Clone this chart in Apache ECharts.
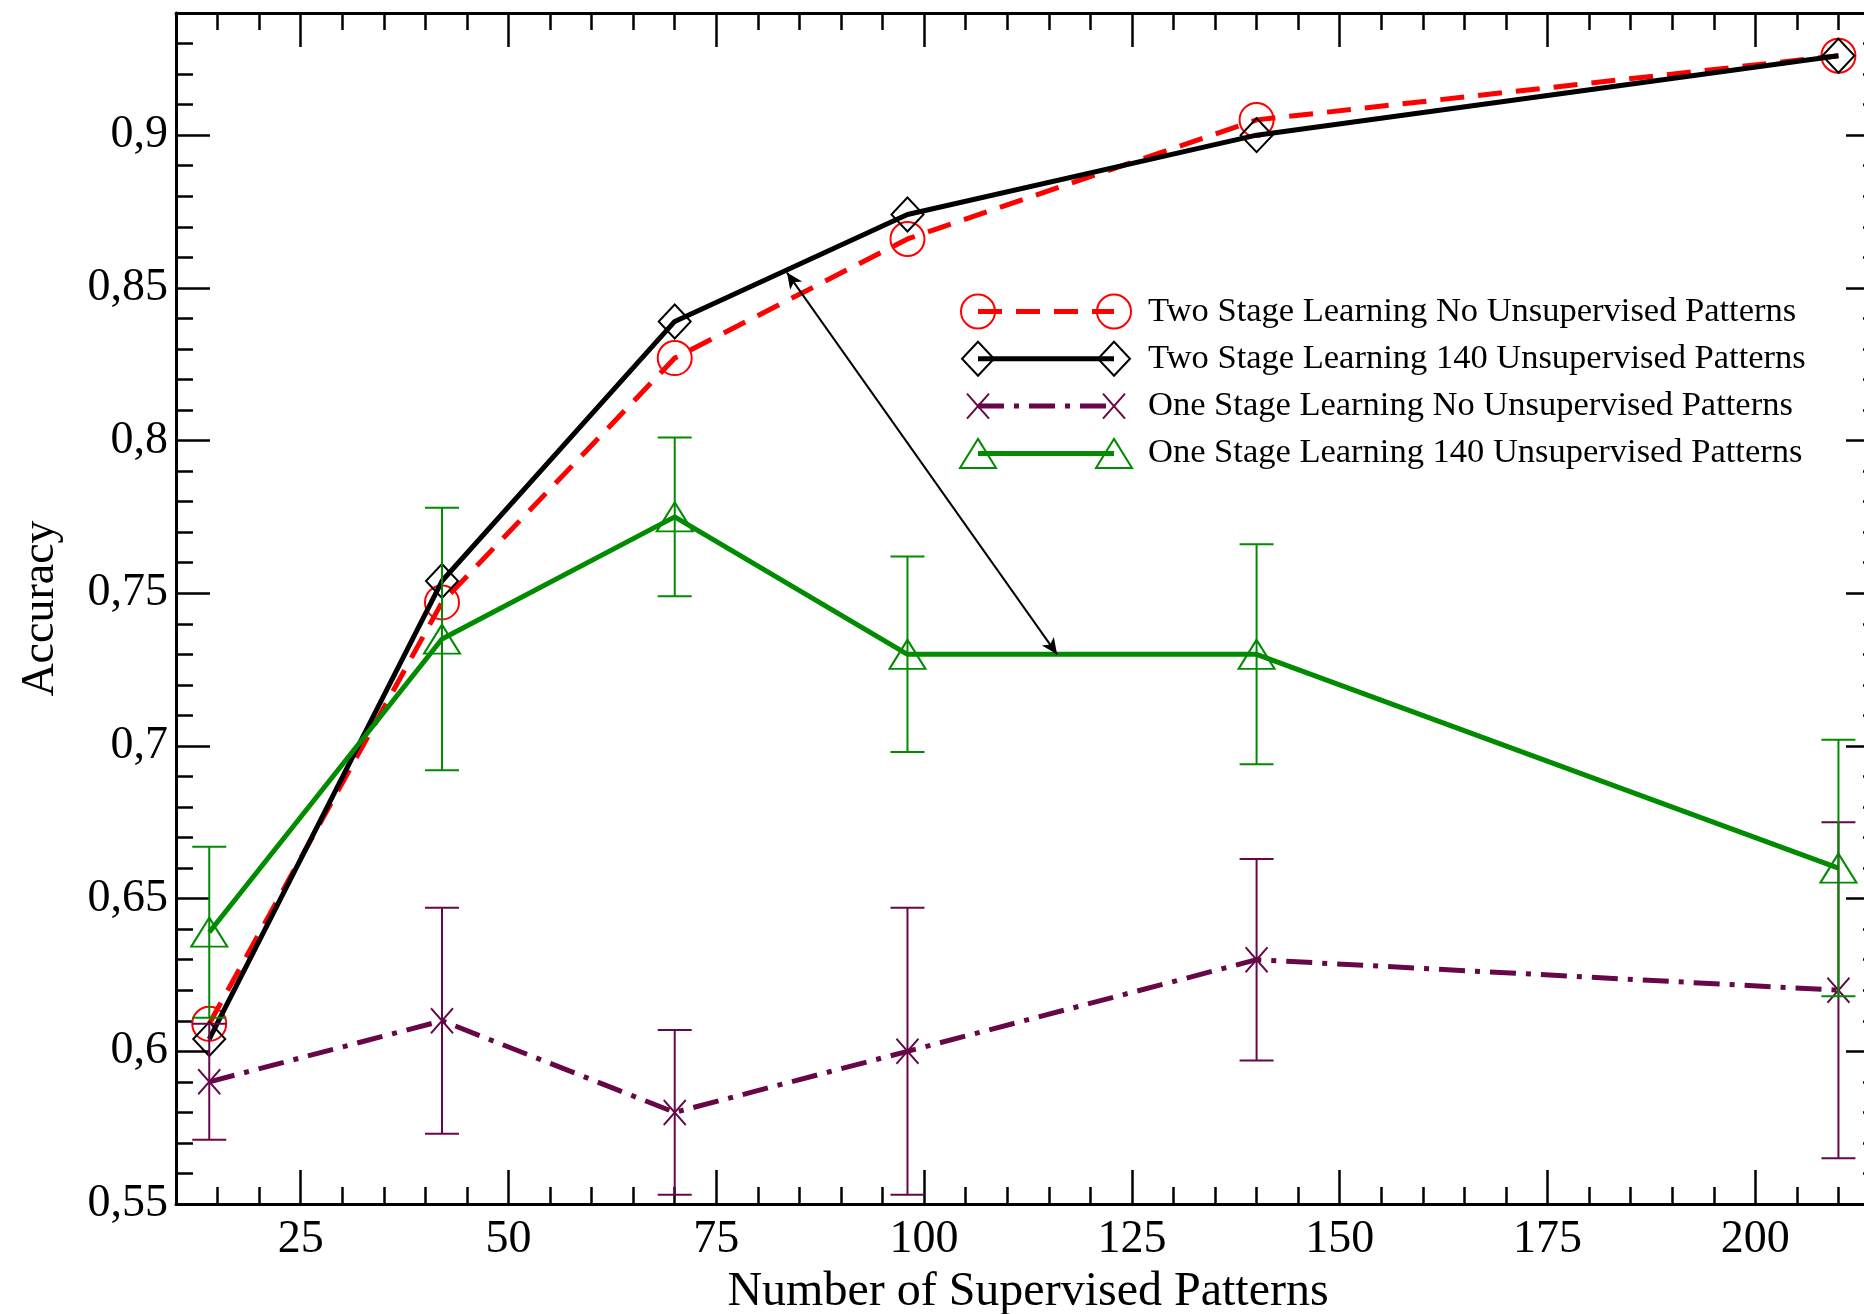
<!DOCTYPE html>
<html>
<head>
<meta charset="utf-8">
<script src="https://cdn.jsdelivr.net/npm/echarts@6/dist/echarts.min.js"></script>
<style>
html,body{margin:0;padding:0;background:#fff;overflow:hidden;}
#chart{width:1864px;height:1314px;}
</style>
</head>
<body>
<div id="chart"></div>
<script>
// ---- data ----
const xValues = [14, 42, 70, 98, 140, 210];
const twoStageNoUnsup = [0.609, 0.747, 0.827, 0.866, 0.905, 0.926];
const twoStage140 = [0.604, 0.754, 0.839, 0.874, 0.900, 0.926];
const oneStageNoUnsup = [0.590, 0.610, 0.580, 0.600, 0.630, 0.620];
const oneStageNoUnsupErr = [0.019, 0.037, 0.027, 0.047, 0.033, 0.055];
const oneStage140 = [0.639, 0.735, 0.775, 0.730, 0.730, 0.660];
const oneStage140Err = [0.028, 0.043, 0.026, 0.032, 0.036, 0.042];
const xTickLabels = [25, 50, 75, 100, 125, 150, 175, 200];
const yTickLabels = [0.55, 0.6, 0.65, 0.7, 0.75, 0.8, 0.85, 0.9];
const arrowFrom = [83.5, 0.855];
const arrowTo = [116, 0.73];
const seriesNames = [
  'Two Stage Learning No Unsupervised Patterns',
  'Two Stage Learning 140 Unsupervised Patterns',
  'One Stage Learning No Unsupervised Patterns',
  'One Stage Learning 140 Unsupervised Patterns'
];

// ---- styles ----
const FONT = 'Liberation Serif';
const RED = '#ff0000', BLACK = '#000000', MAROON = '#670748', GREEN = '#008b00';
const RED_DASH = [24, 14];
const MAROON_DASH = [26, 10, 5, 10];
const X_PATH = 'path://M0,0L10,12M10,0L0,12';

const pairs = (ys) => xValues.map((x, i) => [x, ys[i]]);
const errs = (ys, es) => xValues.map((x, i) => [x, ys[i] - es[i], ys[i] + es[i]]);

const X_MIN = 10, X_MAX = 215, Y_MIN = 0.55, Y_MAX = 0.94;
const tickStyle = {color: '#000', width: 2.5};

function xAx(pos, major, withLabels) {
  const a = {
    type: 'value', position: pos, min: X_MIN, max: X_MAX, gridIndex: 0,
    splitLine: {show: false},
    axisLine: {show: !major, onZero: false, lineStyle: {color: '#000', width: 3}},
    axisTick: {show: true, inside: true, length: major ? 34 : 17, lineStyle: tickStyle},
    axisLabel: {show: false}
  };
  if (major) a.axisTick.customValues = xTickLabels; else a.interval = 5;
  if (withLabels) {
    a.axisLabel = {show: true, customValues: xTickLabels, fontFamily: FONT, fontSize: 46, color: '#000', margin: 13};
    a.name = 'Number of Supervised Patterns';
    a.nameLocation = 'middle';
    a.nameGap = 56;
    a.nameTextStyle = {fontFamily: FONT, fontSize: 48, color: '#000'};
  }
  return a;
}
function yAx(pos, major, withLabels) {
  const a = {
    type: 'value', position: pos, min: Y_MIN, max: Y_MAX, gridIndex: 0,
    splitLine: {show: false},
    axisLine: {show: !major, onZero: false, lineStyle: {color: '#000', width: 3}},
    axisTick: {show: true, inside: true, length: major ? 34 : 17, lineStyle: tickStyle},
    axisLabel: {show: false}
  };
  if (major) a.axisTick.customValues = yTickLabels; else a.interval = 0.01;
  if (withLabels) {
    a.axisLabel = {show: true, customValues: yTickLabels, fontFamily: FONT, fontSize: 46, color: '#000', margin: 8,
      formatter: v => String(+v.toFixed(2)).replace('.', ',')};
    a.name = 'Accuracy';
    a.nameLocation = 'middle';
    a.nameRotate = 90;
    a.nameGap = 112;
    a.nameTextStyle = {fontFamily: FONT, fontSize: 46, color: '#000'};
  }
  return a;
}

function errorSeries(data, color) {
  return {
    type: 'custom', xAxisIndex: 0, yAxisIndex: 0, silent: true, z: 3,
    data: data,
    encode: {x: 0, y: [1, 2]},
    renderItem: function (params, api) {
      const x = api.value(0);
      const lo = api.coord([x, api.value(1)]);
      const hi = api.coord([x, api.value(2)]);
      const w = 17;
      const st = {stroke: color, lineWidth: 2};
      return {type: 'group', children: [
        {type: 'line', shape: {x1: lo[0], y1: lo[1], x2: hi[0], y2: hi[1]}, style: st},
        {type: 'line', shape: {x1: lo[0] - w, y1: lo[1], x2: lo[0] + w, y2: lo[1]}, style: st},
        {type: 'line', shape: {x1: hi[0] - w, y1: hi[1], x2: hi[0] + w, y2: hi[1]}, style: st}
      ]};
    }
  };
}

const seriesDefs = [
  {name: seriesNames[0], data: twoStageNoUnsup, color: RED, dash: RED_DASH, symbol: 'circle', size: [34, 34]},
  {name: seriesNames[1], data: twoStage140, color: BLACK, dash: 'solid', symbol: 'diamond', size: [32, 34]},
  {name: seriesNames[2], data: oneStageNoUnsup, color: MAROON, dash: MAROON_DASH, symbol: X_PATH, size: [22, 25]},
  {name: seriesNames[3], data: oneStage140, color: GREEN, dash: 'solid', symbol: 'triangle', size: [36, 29]}
];

const series = [];
seriesDefs.forEach((d, i) => {
  const s = {
    type: 'line', name: d.name, xAxisIndex: 0, yAxisIndex: 0,
    data: pairs(d.data),
    symbol: d.symbol, symbolSize: d.size, showAllSymbol: true,
    lineStyle: {color: d.color, width: 5, type: d.dash},
    itemStyle: {color: 'transparent', borderColor: d.color, borderWidth: 2},
    emphasis: {disabled: true}, silent: true, animation: false, z: 2 + i * 0.1
  };
  series.push(s);
  if (i === 2) series.push(errorSeries(errs(oneStageNoUnsup, oneStageNoUnsupErr), MAROON));
  if (i === 3) {
    series.push(errorSeries(errs(oneStage140, oneStage140Err), GREEN));
    s.markLine = {
      silent: true, animation: false,
      symbol: ['arrow', 'arrow'], symbolSize: [11, 16],
      label: {show: false},
      lineStyle: {color: '#000', width: 2, type: 'solid'},
      data: [[{coord: arrowFrom}, {coord: arrowTo}]]
    };
  }
});

// ---- legend (drawn with graphic elements) ----
const LG_X1 = 978, LG_X2 = 1114, LG_TX = 1148, LG_Y0 = 311.5, LG_DY = 47.3;
const graphics = [];
seriesDefs.forEach((d, i) => {
  const y = LG_Y0 + i * LG_DY;
  graphics.push({type: 'line', shape: {x1: LG_X1, y1: y, x2: LG_X2, y2: y},
    style: {stroke: d.color, lineWidth: 5, lineDash: Array.isArray(d.dash) ? d.dash : null}, silent: true});
  [LG_X1, LG_X2].forEach(cx => {
    const st = {stroke: d.color, lineWidth: 2, fill: null};
    if (i === 0) graphics.push({type: 'circle', shape: {cx: cx, cy: y, r: 17}, style: st, silent: true});
    if (i === 1) graphics.push({type: 'polygon', shape: {points: [[cx, y - 17], [cx + 16, y], [cx, y + 17], [cx - 16, y]]}, style: st, silent: true});
    if (i === 2) graphics.push({type: 'polyline', shape: {points: [[cx - 11, y - 12.5], [cx + 11, y + 12.5]]}, style: st, silent: true},
                                {type: 'polyline', shape: {points: [[cx + 11, y - 12.5], [cx - 11, y + 12.5]]}, style: st, silent: true});
    if (i === 3) graphics.push({type: 'polygon', shape: {points: [[cx, y - 14.5], [cx + 18, y + 14.5], [cx - 18, y + 14.5]]}, style: st, silent: true});
  });
  graphics.push({type: 'text', x: LG_TX, y: y, silent: true,
    style: {text: d.name, fontFamily: FONT, fontSize: 34.5, fill: '#000', verticalAlign: 'middle', align: 'left'}});
});

const chart = echarts.init(document.getElementById('chart'), null, {renderer: 'canvas', width: 1864, height: 1314});
chart.setOption({
  animation: false,
  backgroundColor: '#fff',
  grid: {left: 176, top: 13, width: 1704, height: 1191, containLabel: false, outerBoundsMode: 'none'},
  xAxis: [xAx('bottom', false, true), xAx('bottom', true, false), xAx('top', false, false), xAx('top', true, false)],
  yAxis: [yAx('left', false, true), yAx('left', true, false), yAx('right', false, false), yAx('right', true, false)],
  series: series,
  graphic: {elements: graphics}
});
</script>
</body>
</html>
